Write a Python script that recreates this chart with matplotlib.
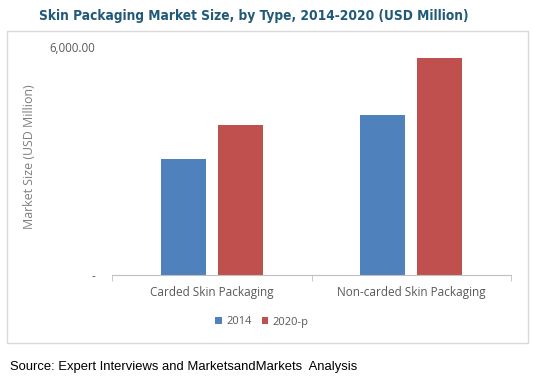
import matplotlib.pyplot as plt
from matplotlib.patches import Rectangle
import numpy as np

categories = ['Carded Skin Packaging', 'Non-carded Skin Packaging']
series = ['2014', '2020-p']
values_2014 = [3050, 4210]
values_2020 = [3950, 5710]
colors = ['#4F81BD', '#C0504D']

fig = plt.figure(figsize=(5.33, 3.78), dpi=100)

# outer light frame around the chart area
fig.patches.append(Rectangle((7 / 533, 1 - 343 / 378), 521 / 533, 312 / 378,
                             transform=fig.transFigure, fill=False,
                             edgecolor='#D9D9D9', linewidth=1))

ax = fig.add_axes([112 / 533, 1 - 275 / 378, 399 / 533, 228 / 378])
x = np.arange(len(categories))
w = 0.225
off = 0.1425
ax.bar(x - off, values_2014, w, color=colors[0], label=series[0])
ax.bar(x + off, values_2020, w, color=colors[1], label=series[1])

ax.set_xlim(-0.5, 1.5)
ax.set_ylim(0, 6000)
ax.set_yticks([0, 6000])
ax.set_yticklabels(['-', '6,000.00'], fontsize=8.3, color='#595959', family='Open Sans')
ax.tick_params(axis='y', length=0, pad=12)
ax.set_xticks(x)
ax.set_xticklabels(categories, fontsize=8.5, color='#595959', family='Open Sans')
ax.set_xticks([-0.5, 0.5, 1.5], minor=True)
ax.tick_params(axis='x', which='major', length=0, pad=8)
ax.tick_params(axis='x', which='minor', length=4, color='#BFBFBF')
for s in ['top', 'right', 'left']:
    ax.spines[s].set_visible(False)
ax.spines['bottom'].set_color('#BFBFBF')

ax.set_ylabel('Market Size (USD Million)', fontsize=8.9, color='#7F7F7F',
              family='Open Sans')
ax.yaxis.set_label_coords(-0.19, 0.52)

fig.legend(loc='center', bbox_to_anchor=(262 / 533, 1 - 322 / 378), ncol=2,
           frameon=False, prop={'family': 'Open Sans', 'size': 8},
           handlelength=0.6, handleheight=0.6, handletextpad=0.4, columnspacing=0.9,
           labelcolor='#595959')

fig.text(254 / 533, 1 - 16 / 378, 'Skin Packaging Market Size, by Type, 2014-2020 (USD Million)',
         ha='center', va='center', fontsize=9.8, fontweight='bold', color='#215A78',
         family='DejaVu Sans', fontstretch='condensed')
fig.text(10 / 533, 1 - 367 / 378, 'Source: Expert Interviews and MarketsandMarkets  Analysis',
         ha='left', va='center', fontsize=9.4, color='black', family='Liberation Sans')

fig.savefig('out.png', dpi=100)
